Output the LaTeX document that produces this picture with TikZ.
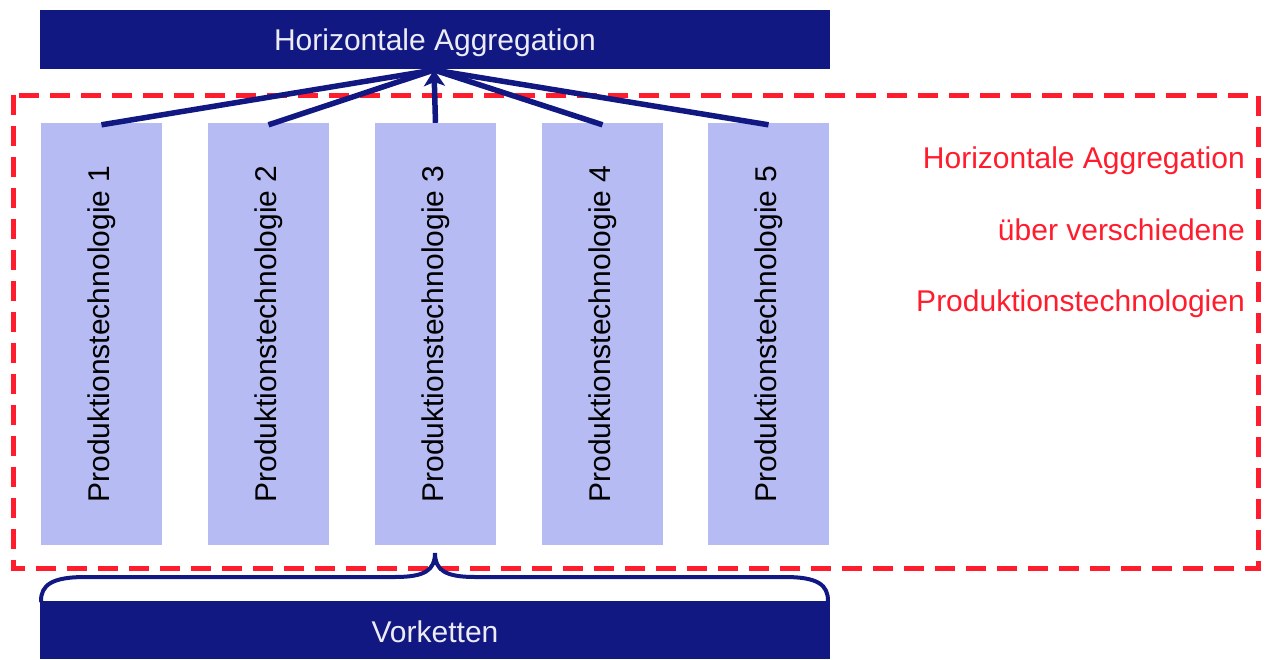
\documentclass[tikz,border=0pt]{standalone}
\usepackage{fontspec}
\setmainfont{Liberation Sans}
\usetikzlibrary{arrows.meta}
\definecolor{navy}{RGB}{18,24,130}
\definecolor{lightblue}{RGB}{182,188,243}
\definecolor{redd}{RGB}{255,28,44}
\definecolor{paletext}{RGB}{236,236,245}
\tikzset{
  darkbox/.style={fill=navy,draw=none,minimum width=790pt,minimum height=59pt,inner sep=0pt},
  colbox/.style={fill=lightblue,draw=none,minimum width=121pt,minimum height=422pt,inner sep=0pt,text=black},
  conn/.style={draw=navy,line width=5.5pt},
  redlabel/.style={text=redd,anchor=base east,inner sep=0pt},
  bracestyle/.style={draw=navy,line width=4pt,line cap=round},
  frame/.style={draw=redd,line width=5pt,dash pattern=on 20pt off 11pt}
}
\begin{document}
\begin{tikzpicture}[x=1pt,y=-1pt,font=\fontsize{30}{36}\selectfont]
\useasboundingbox (0,0) rectangle (1267,659);
% red dashed frame
\draw[frame] (13,95) rectangle (1258,568);
% top and bottom boxes
\node[darkbox] (top) at (435,39.5) {};
\node[text=paletext,anchor=base,inner sep=0pt] (toptext) at (435,50) {Horizontale Aggregation};
\node[darkbox,minimum height=58pt] (bottom) at (435,630) {};
\node[text=paletext,anchor=base,inner sep=0pt] (bottomtext) at (435,642) {Vorketten};
% columns
\foreach \i/\x in {1/101.5,2/268.5,3/435.5,4/602.5,5/768.5}{
  \node[colbox] (c\i) at (\x,334) {\rotatebox{90}{Produktionstechnologie \i}};
}
% arrows
\coordinate (tip) at (434,70);
\draw[conn] (c1.north) ++(0,2) coordinate (s1) -- (tip);
\draw[conn] (c2.north) ++(0,2) coordinate (s2) -- (tip);
\draw[conn] (c4.north) ++(0,2) coordinate (s4) -- (tip);
\draw[conn] (c5.north) ++(0,2) coordinate (s5) -- (tip);
\draw[conn,-{Stealth[length=16pt,width=21pt,inset=4pt]}] (c3.north) -- (tip);
% brace
\coordinate (bl) at (41,601);
\coordinate (br) at (828,601);
\coordinate (bt) at (435,553);
\draw[bracestyle] (bl) .. controls (41,585) and (52,577) .. (85,577) -- (395,577)
   .. controls (425,577) and (435,570) .. (bt)
   .. controls (435,570) and (445,577) .. (475,577) -- (785,577)
   .. controls (818,577) and (828,585) .. (br);
% red labels
\node[redlabel] (r1) at (1245,168) {Horizontale Aggregation};
\node[redlabel] (r2) at (1245,240) {über verschiedene};
\node[redlabel] (r3) at (1245,311) {Produktionstechnologien};
\end{tikzpicture}
\end{document}
